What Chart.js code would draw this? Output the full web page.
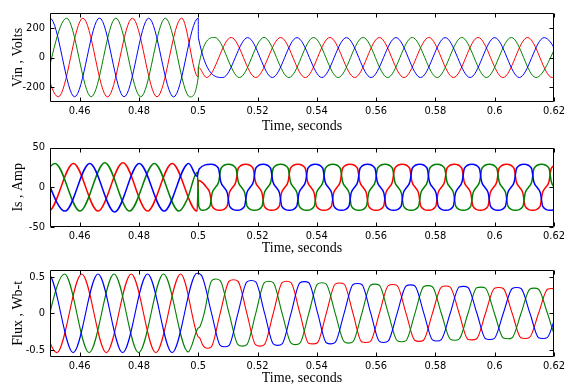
<!DOCTYPE html>
<html>
<head>
<meta charset="utf-8">
<script src="https://cdn.jsdelivr.net/npm/chart.js@4.4.1/dist/chart.umd.min.js"></script>
<style>
  html, body { margin: 0; padding: 0; background: #fff; }
  #wrap { position: relative; width: 568px; height: 387px; overflow: hidden; }
  canvas { position: absolute; left: 0; }
</style>
</head>
<body>
<div id="wrap">
  <canvas id="c-vin" width="568" height="136" style="top:0px"></canvas>
  <canvas id="c-is" width="568" height="122" style="top:136px"></canvas>
  <canvas id="c-flux" width="568" height="129" style="top:258px"></canvas>
</div>
<script>
// shared time axis
const xTicks = [0.46, 0.48, 0.5, 0.52, 0.54, 0.56, 0.58, 0.6, 0.62];

// Vin, Volts  ([time, value] read at peaks / troughs)
const vinTicks = [-200, 0, 200];
const vinBlue = [[0.4417,-264],[0.4500,265],[0.4583,-265],[0.4667,266],[0.4750,-265],[0.4833,265],[0.4917,-266],[0.5000,265],[0.50005,133],
  [0.5083,-135],[0.5167,134],[0.5250,-135],[0.5333,134],[0.5417,-135],[0.5500,134],[0.5583,-135],[0.5667,134],[0.5750,-135],
  [0.5833,134],[0.5917,-135],[0.6000,134],[0.6083,-135],[0.6167,134],[0.6250,-135]];
const vinRed = [[0.4444,265],[0.4528,-265],[0.4611,265],[0.4694,-266],[0.4778,265],[0.4861,-265],[0.4944,266],[0.5000,-132],[0.50005,-66],
  [0.5028,-135],[0.5111,135],[0.5194,-135],[0.5278,135],[0.5361,-135],[0.5444,135],[0.5528,-135],[0.5611,135],[0.5694,-135],
  [0.5778,135],[0.5861,-135],[0.5944,135],[0.6028,-135],[0.6111,135],[0.6194,-135],[0.6278,135]];
const vinGreen = [[0.4472,-265],[0.4556,265],[0.4639,-265],[0.4722,266],[0.4806,-265],[0.4889,265],[0.4972,-266],[0.5000,-134],[0.50005,-68],
  [0.5056,135],[0.5139,-135],[0.5222,135],[0.5306,-135],[0.5389,135],[0.5472,-135],[0.5556,135],[0.5639,-135],[0.5722,135],
  [0.5806,-135],[0.5889,135],[0.5972,-135],[0.6056,135],[0.6139,-135],[0.6222,135]];

// Is, Amp
const isTicks = [-50, 0, 50];
const isBlue = [[0.4467,30],[0.4551,-30],[0.4634,30],[0.4718,-31],[0.4801,30],[0.4885,-30],[0.4968,30],[0.4996,14],[0.5003,23],
  [0.5043,29],[0.5068,24],[0.5076,7],[0.5087,0],[0.5098,-7],[0.5106,-24],[0.5131,-29],[0.5156,-24],[0.5164,-7],[0.5175,0],[0.5186,7],[0.5194,24],
  [0.5219,29],[0.5244,24],[0.5252,7],[0.5263,0],[0.5274,-7],[0.5282,-24],[0.5307,-29],[0.5332,-24],[0.5340,-7],[0.5351,0],[0.5362,7],[0.5370,24],
  [0.5395,29],[0.5420,24],[0.5428,7],[0.5439,0],[0.5450,-7],[0.5458,-24],[0.5483,-29],[0.5508,-24],[0.5516,-7],[0.5527,0],[0.5538,7],[0.5546,24],
  [0.5571,29],[0.5596,24],[0.5604,7],[0.5615,0],[0.5626,-7],[0.5634,-24],[0.5659,-29],[0.5684,-24],[0.5692,-7],[0.5703,0],[0.5714,7],[0.5722,24],
  [0.5747,29],[0.5772,24],[0.5780,7],[0.5791,0],[0.5802,-7],[0.5810,-24],[0.5835,-29],[0.5860,-24],[0.5868,-7],[0.5879,0],[0.5890,7],[0.5898,24],
  [0.5923,29],[0.5948,24],[0.5956,7],[0.5967,0],[0.5978,-7],[0.5986,-24],[0.6011,-29],[0.6036,-24],[0.6044,-7],[0.6055,0],[0.6066,7],[0.6074,24],
  [0.6099,29],[0.6124,24],[0.6132,7],[0.6143,0],[0.6154,-7],[0.6162,-24],[0.6187,-29],[0.6212,-24],[0.6220,-7]];
const isGreen = [[0.4434,-30],[0.4517,30],[0.4601,-30],[0.4685,31],[0.4768,-30],[0.4852,30],[0.4935,-30],[0.4963,-15],[0.4997,19],[0.5002,-24],
  [0.5014,-29],[0.5039,-24],[0.5047,-7],[0.5058,0],[0.5069,7],[0.5077,24],[0.5102,29],[0.5127,24],[0.5135,7],[0.5146,0],[0.5157,-7],[0.5165,-24],
  [0.5190,-29],[0.5215,-24],[0.5223,-7],[0.5234,0],[0.5245,7],[0.5253,24],[0.5278,29],[0.5303,24],[0.5311,7],[0.5322,0],[0.5333,-7],[0.5341,-24],
  [0.5366,-29],[0.5391,-24],[0.5399,-7],[0.5410,0],[0.5421,7],[0.5429,24],[0.5454,29],[0.5479,24],[0.5487,7],[0.5498,0],[0.5509,-7],[0.5517,-24],
  [0.5542,-29],[0.5567,-24],[0.5575,-7],[0.5586,0],[0.5597,7],[0.5605,24],[0.5630,29],[0.5655,24],[0.5663,7],[0.5674,0],[0.5685,-7],[0.5693,-24],
  [0.5718,-29],[0.5743,-24],[0.5751,-7],[0.5762,0],[0.5773,7],[0.5781,24],[0.5806,29],[0.5831,24],[0.5839,7],[0.5850,0],[0.5861,-7],[0.5869,-24],
  [0.5894,-29],[0.5919,-24],[0.5927,-7],[0.5938,0],[0.5949,7],[0.5957,24],[0.5982,29],[0.6007,24],[0.6015,7],[0.6026,0],[0.6037,-7],[0.6045,-24],
  [0.6070,-29],[0.6095,-24],[0.6103,-7],[0.6114,0],[0.6125,7],[0.6133,24],[0.6158,29],[0.6183,24],[0.6191,7],[0.6202,0],[0.6213,-7]];
const isRed = [[0.4412,30],[0.4495,-30],[0.4579,30],[0.4662,-30],[0.4746,31],[0.4829,-30],[0.4912,30],[0.4996,-30],[0.5001,9],[0.5017,5],
  [0.5028,0],[0.5039,-7],[0.5047,-24],[0.5072,-29],[0.5097,-24],[0.5105,-7],[0.5116,0],[0.5127,7],[0.5135,24],[0.5160,29],[0.5185,24],[0.5193,7],
  [0.5204,0],[0.5215,-7],[0.5223,-24],[0.5248,-29],[0.5273,-24],[0.5281,-7],[0.5292,0],[0.5303,7],[0.5311,24],[0.5336,29],[0.5361,24],[0.5369,7],
  [0.5380,0],[0.5391,-7],[0.5399,-24],[0.5424,-29],[0.5449,-24],[0.5457,-7],[0.5468,0],[0.5479,7],[0.5487,24],[0.5512,29],[0.5537,24],[0.5545,7],
  [0.5556,0],[0.5567,-7],[0.5575,-24],[0.5600,-29],[0.5625,-24],[0.5633,-7],[0.5644,0],[0.5655,7],[0.5663,24],[0.5688,29],[0.5713,24],[0.5721,7],
  [0.5732,0],[0.5743,-7],[0.5751,-24],[0.5776,-29],[0.5801,-24],[0.5809,-7],[0.5820,0],[0.5831,7],[0.5839,24],[0.5864,29],[0.5889,24],[0.5897,7],
  [0.5908,0],[0.5919,-7],[0.5927,-24],[0.5952,-29],[0.5977,-24],[0.5985,-7],[0.5996,0],[0.6007,7],[0.6015,24],[0.6040,29],[0.6065,24],[0.6073,7],
  [0.6084,0],[0.6095,-7],[0.6103,-24],[0.6128,-29],[0.6153,-24],[0.6161,-7],[0.6172,0],[0.6183,7],[0.6191,24],[0.6216,29]];

// Flux, Wb-t
const fluxTicks = [-0.5, 0, 0.5];
const fluxBlue = [[0.4412,-0.54],[0.4495,0.53],[0.4578,-0.54],[0.4662,0.54],[0.4745,-0.54],[0.4829,0.54],[0.4912,-0.54],[0.4996,0.55],
  [0.5011,0.52],[0.5045,0],[0.5074,-0.44],[0.5089,-0.46],[0.5104,-0.44],[0.5134,0],[0.5164,0.43],[0.5179,0.45],[0.5194,0.43],[0.5224,0],
  [0.5253,-0.42],[0.5268,-0.44],[0.5283,-0.42],[0.5313,0],[0.5343,0.42],[0.5358,0.435],[0.5373,0.42],[0.5403,0],[0.5432,-0.405],[0.5447,-0.42],
  [0.5462,-0.40],[0.5492,0],[0.5522,0.395],[0.5537,0.41],[0.5552,0.395],[0.5582,0],[0.5611,-0.385],[0.5626,-0.40],[0.5641,-0.38],[0.5671,0],
  [0.5701,0.375],[0.5716,0.39],[0.5731,0.375],[0.5761,0],[0.5790,-0.365],[0.5805,-0.38],[0.5820,-0.36],[0.5850,0],[0.5880,0.36],[0.5895,0.37],
  [0.5910,0.355],[0.5940,0],[0.5969,-0.35],[0.5984,-0.36],[0.5999,-0.345],[0.6029,0],[0.6059,0.34],[0.6074,0.355],[0.6089,0.34],[0.6119,0],
  [0.6148,-0.335],[0.6163,-0.345],[0.6178,-0.33],[0.6208,0],[0.6238,0.33]];
const fluxGreen = [[0.4466,-0.54],[0.4549,0.54],[0.4632,-0.54],[0.4716,0.54],[0.4799,-0.54],[0.4883,0.54],[0.4966,-0.53],[0.4998,-0.21],
  [0.5006,-0.18],[0.5020,0],[0.5044,0.44],[0.5059,0.47],[0.5074,0.45],[0.5104,0],[0.5134,-0.43],[0.5149,-0.45],[0.5164,-0.43],[0.5194,0],
  [0.5223,0.42],[0.5238,0.44],[0.5253,0.42],[0.5283,0],[0.5313,-0.41],[0.5328,-0.43],[0.5343,-0.41],[0.5373,0],[0.5402,0.40],[0.5417,0.42],
  [0.5432,0.40],[0.5462,0],[0.5492,-0.39],[0.5507,-0.41],[0.5522,-0.39],[0.5552,0],[0.5581,0.385],[0.5596,0.40],[0.5611,0.385],[0.5641,0],
  [0.5671,-0.375],[0.5686,-0.39],[0.5701,-0.375],[0.5731,0],[0.5760,0.365],[0.5775,0.38],[0.5790,0.365],[0.5820,0],[0.5850,-0.355],[0.5865,-0.37],
  [0.5880,-0.355],[0.5910,0],[0.5939,0.35],[0.5954,0.36],[0.5969,0.345],[0.5999,0],[0.6029,-0.34],[0.6044,-0.35],[0.6059,-0.335],[0.6089,0],
  [0.6118,0.33],[0.6133,0.345],[0.6148,0.33],[0.6178,0],[0.6208,-0.33],[0.6223,-0.34],[0.6238,-0.33]];
const fluxRed = [[0.4440,0.54],[0.4523,-0.54],[0.4607,0.54],[0.4690,-0.54],[0.4774,0.54],[0.4857,-0.54],[0.4941,0.54],[0.4998,-0.31],
  [0.5005,-0.34],[0.5016,-0.44],[0.5029,-0.48],[0.5044,-0.46],[0.5074,0],[0.5104,0.44],[0.5119,0.46],[0.5134,0.44],[0.5164,0],[0.5193,-0.43],
  [0.5208,-0.45],[0.5223,-0.43],[0.5253,0],[0.5283,0.42],[0.5298,0.44],[0.5313,0.42],[0.5343,0],[0.5372,-0.41],[0.5387,-0.42],[0.5402,-0.405],
  [0.5432,0],[0.5462,0.40],[0.5477,0.415],[0.5492,0.40],[0.5522,0],[0.5551,-0.39],[0.5566,-0.40],[0.5581,-0.385],[0.5611,0],[0.5641,0.38],
  [0.5656,0.395],[0.5671,0.38],[0.5701,0],[0.5730,-0.37],[0.5745,-0.385],[0.5760,-0.37],[0.5790,0],[0.5820,0.36],[0.5835,0.375],[0.5850,0.36],
  [0.5880,0],[0.5909,-0.355],[0.5924,-0.365],[0.5939,-0.35],[0.5969,0],[0.5999,0.345],[0.6014,0.355],[0.6029,0.34],[0.6059,0],[0.6088,-0.335],
  [0.6103,-0.345],[0.6118,-0.33],[0.6148,0],[0.6178,0.33],[0.6193,0.34],[0.6208,0.33],[0.6238,0]];

const RED = "#ff0000", GREEN = "#008000", BLUE = "#0000ff";
const TICK_FONT = { family: "'Liberation Sans Narrow', 'DejaVu Sans Condensed', 'Liberation Sans', Arial, sans-serif", size: 11 };
const TITLE_FONT = { family: "'Liberation Serif', 'DejaVu Serif', serif", size: 14 };

// box around the plot with small inward ticks on all four sides
const framePlugin = {
  id: "frame",
  afterDatasetsDraw(chart) {
    const { ctx, chartArea: a, scales } = chart;
    const L = Math.round(a.left) + 0.5, R = Math.round(a.right) - 0.5;
    const T = Math.round(a.top) + 0.5, B = Math.round(a.bottom) - 0.5;
    ctx.save();
    ctx.strokeStyle = "#000";
    ctx.lineWidth = 1;
    ctx.beginPath();
    ctx.rect(L, T, R - L, B - T);
    scales.x.ticks.forEach((t) => {
      const px = Math.round(scales.x.getPixelForValue(t.value)) + 0.5;
      ctx.moveTo(px, B); ctx.lineTo(px, B - 4);
      ctx.moveTo(px, T); ctx.lineTo(px, T + 4);
    });
    scales.y.ticks.forEach((t) => {
      const py = Math.round(scales.y.getPixelForValue(t.value)) + 0.5;
      ctx.moveTo(L, py); ctx.lineTo(L + 4, py);
      ctx.moveTo(R, py); ctx.lineTo(R - 4, py);
    });
    ctx.stroke();
    ctx.restore();
  },
};

function series(arr, color, width) {
  return {
    data: arr.map(([x, y]) => ({ x, y })),
    borderColor: color,
    borderWidth: width,
    pointRadius: 0,
    fill: false,
    cubicInterpolationMode: "monotone",
  };
}

function makeChart(id, sets, cfg) {
  return new Chart(document.getElementById(id), {
    type: "line",
    data: { datasets: sets },
    plugins: [framePlugin],
    options: {
      responsive: false,
      animation: false,
      devicePixelRatio: 1,
      events: [],
      layout: { padding: { top: cfg.padTop, right: 12, bottom: 0, left: 0 } },
      plugins: { legend: { display: false }, tooltip: { enabled: false } },
      scales: {
        x: {
          type: "linear",
          min: 0.45,
          max: 0.62,
          grid: { display: false, drawTicks: false },
          border: { display: false },
          afterBuildTicks: (s) => { s.ticks = xTicks.map((v) => ({ value: v })); },
          afterFit: (s) => { s.height = cfg.xHeight; },
          ticks: { color: "#000", font: TICK_FONT, padding: 3, maxRotation: 0, autoSkip: false, callback: (v) => String(v) },
          title: { display: true, text: "Time, seconds", color: "#000", font: TITLE_FONT, padding: { top: 0, bottom: cfg.xTitlePad } },
        },
        y: {
          min: cfg.yMin,
          max: cfg.yMax,
          grid: { display: false, drawTicks: false },
          border: { display: false },
          afterBuildTicks: (s) => { s.ticks = cfg.yTicks.map((v) => ({ value: v })); },
          afterFit: (s) => { s.width = 50; },
          ticks: { color: "#000", font: TICK_FONT, padding: 5, autoSkip: false, callback: (v) => String(v) },
          title: { display: true, text: cfg.yTitle, color: "#000", font: TITLE_FONT, padding: { top: 10, bottom: 0 } },
        },
      },
    },
  });
}

makeChart("c-vin", [series(vinBlue, BLUE, 1), series(vinGreen, GREEN, 1), series(vinRed, RED, 1)],
  { padTop: 13, xHeight: 34, xTitlePad: 1, yMin: -300, yMax: 300, yTicks: vinTicks, yTitle: "Vin , Volts" });
makeChart("c-is", [series(isBlue, BLUE, 1.5), series(isGreen, GREEN, 1.5), series(isRed, RED, 1.5)],
  { padTop: 7, xHeight: 31, xTitlePad: 1.5, yMin: -50, yMax: 50, yTicks: isTicks, yTitle: "Is , Amp" });
makeChart("c-flux", [series(fluxBlue, BLUE, 1.1), series(fluxGreen, GREEN, 1.1), series(fluxRed, RED, 1.1)],
  { padTop: 7, xHeight: 30, xTitlePad: 0.5, yMin: -0.6, yMax: 0.6, yTicks: fluxTicks, yTitle: "Flux , Wb-t" });
</script>
</body>
</html>
